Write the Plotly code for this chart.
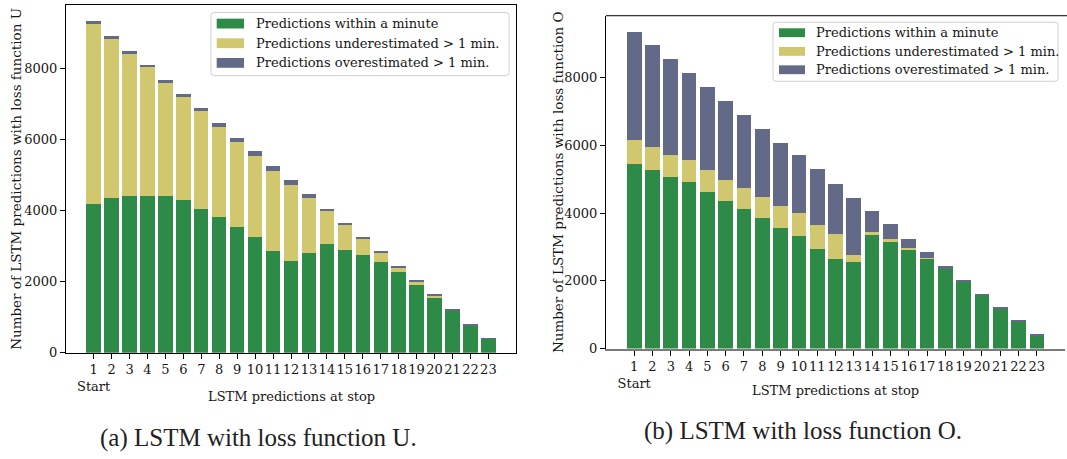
import plotly.graph_objects as go
from plotly.subplots import make_subplots

# Stops along the route (x categories)
stops = list(range(1, 24))
tick_text = ["1<br>Start"] + [str(s) for s in stops[1:]]

# LSTM with loss function U
u_within = [4180, 4345, 4425, 4425, 4425, 4290, 4040, 3815, 3540, 3265, 2875, 2575,
            2820, 3070, 2905, 2740, 2545, 2270, 1910, 1550, 1200, 780, 390]
u_under = [5060, 4510, 4010, 3625, 3180, 2905, 2765, 2545, 2405, 2270, 2240, 2155,
           1550, 940, 720, 470, 275, 140, 85, 55, 0, 0, 0]
u_over = [85, 55, 55, 55, 85, 85, 85, 110, 110, 140, 140, 140,
          85, 30, 30, 30, 30, 30, 30, 30, 25, 25, 25]

# LSTM with loss function O
o_within = [5440, 5265, 5065, 4920, 4630, 4365, 4105, 3845, 3555, 3325, 2945, 2630,
            2540, 3355, 3150, 2945, 2655, 2350, 1960, 1595, 1190, 800, 405]
o_under = [725, 695, 635, 640, 635, 610, 640, 640, 640, 665, 695, 755,
           230, 85, 85, 30, 30, 0, 0, 0, 0, 0, 0]
o_over = [3190, 2985, 2840, 2580, 2465, 2320, 2145, 2000, 1885, 1710, 1650, 1480,
          1680, 610, 435, 260, 175, 75, 60, 20, 20, 30, 20]

series_names = ["Predictions within a minute",
                "Predictions underestimated > 1 min.",
                "Predictions overestimated > 1 min."]
colors = ["#2e8a47", "#d1c76f", "#636a87"]

W, H = 1067, 459
FONT = "DejaVu Serif"
FS = 13
TEXT_COLOR = "#161616"


def px(x):
    return x / W


def py(y):
    return 1 - y / H


fig = make_subplots(rows=1, cols=2)

for col, parts in ((1, (u_within, u_under, u_over)), (2, (o_within, o_under, o_over))):
    for name, vals, color in zip(series_names, parts, colors):
        fig.add_trace(go.Bar(x=stops, y=vals, name=name, width=0.8,
                             marker=dict(color=color, line=dict(width=0)),
                             showlegend=False), row=1, col=col)

u_tot = max(a + b + c for a, b, c in zip(u_within, u_under, u_over))
o_tot = max(a + b + c for a, b, c in zip(o_within, o_under, o_over))

# panel geometry in pixels: (left, right, top, bottom)
panels = {1: (66, 516, 5, 359), 2: (606, 1065, 16, 354.7)}

axis_font = dict(family=FONT, size=FS, color=TEXT_COLOR)
common_x = dict(range=[-0.54, 24.54], tickmode="array", tickvals=stops, ticktext=tick_text,
                tickangle=0, ticks="outside", ticklen=5, tickcolor="black", tickfont=axis_font,
                showgrid=False, zeroline=False)
common_y = dict(tickmode="array", tickvals=[0, 2000, 4000, 6000, 8000],
                ticks="outside", ticklen=5, tickcolor="black", tickfont=axis_font,
                showgrid=False, zeroline=False)

l, r, t, b = panels[1]
fig.update_xaxes(domain=[px(l), px(r)], showline=True, linecolor="black", linewidth=1,
                 mirror=True, **common_x, row=1, col=1)
fig.update_yaxes(domain=[py(b), py(t)], range=[0, u_tot * 1.05], showline=True,
                 linecolor="black", linewidth=1, mirror=True, **common_y, row=1, col=1)

l, r, t, b = panels[2]
fig.update_xaxes(domain=[px(l), px(r)], showline=True, linecolor="#7a7a7a", linewidth=2,
                 **common_x, row=1, col=2)
fig.update_yaxes(domain=[py(b), py(t)], range=[0, o_tot * 1.05], showline=True,
                 linecolor="black", linewidth=1, **common_y, row=1, col=2)

shapes = []
annotations = []

# top spine of the right panel
shapes.append(dict(type="line", xref="paper", yref="paper", x0=px(606), x1=px(1067),
                   y0=py(16), y1=py(16), line=dict(color="black", width=1)))

ylabels = {1: "Number of LSTM predictions with loss function U",
           2: "Number of LSTM predictions with loss function O"}
ylabel_x = {1: 16, 2: 558}
ylabel_size = {1: 13.5, 2: 13.5}
captions = {1: ("(a) LSTM with loss function U.", 258, 446),
            2: ("(b) LSTM with loss function O.", 803, 439)}
xlabel_y = {1: 404, 2: 397}

for col in (1, 2):
    l, r, t, b = panels[col]
    annotations.append(dict(text="LSTM predictions at stop", xref="paper", yref="paper",
                            x=px((l + r) / 2), y=py(xlabel_y[col]), showarrow=False,
                            xanchor="center", yanchor="middle", font=axis_font))
    annotations.append(dict(text=ylabels[col], xref="paper", yref="paper",
                            x=px(ylabel_x[col]), y=py((t + b) / 2), textangle=-90,
                            showarrow=False, xanchor="center", yanchor="middle",
                            font=dict(family=FONT, size=ylabel_size[col], color=TEXT_COLOR)))
    text, cx, cy = captions[col]
    annotations.append(dict(text=text, xref="paper", yref="paper", x=px(cx), y=py(cy),
                            showarrow=False, xanchor="center", yanchor="middle",
                            font=dict(family="Liberation Serif", size=25, color="#222")))


def rounded_box(x0, y0, x1, y1, rad=3):
    # path in paper coordinates with small rounded corners
    def P(x, y):
        return f"{px(x):.5f},{py(y):.5f}"
    return ("M " + P(x0 + rad, y0) + " L " + P(x1 - rad, y0) + " Q " + P(x1, y0) + " " + P(x1, y0 + rad)
            + " L " + P(x1, y1 - rad) + " Q " + P(x1, y1) + " " + P(x1 - rad, y1)
            + " L " + P(x0 + rad, y1) + " Q " + P(x0, y1) + " " + P(x0, y1 - rad)
            + " L " + P(x0, y0 + rad) + " Q " + P(x0, y0) + " " + P(x0 + rad, y0) + " Z")


# legend boxes: (box l, t, r, b), swatch x0, x1, swatch height, text x, row centres
legends = {1: ((211, 12.7, 509, 77), 216.7, 244, 10, 254, [24, 44, 64]),
           2: ((773, 22.7, 1058, 82.7), 779, 805, 9, 814.3, [33.3, 52.3, 71])}
for col, (box, sx0, sx1, sh, tx, rows) in legends.items():
    bl, bt, br, bb = box
    shapes.append(dict(type="path", xref="paper", yref="paper", path=rounded_box(bl, bt, br, bb),
                       fillcolor="rgba(255,255,255,0.85)", line=dict(color="#d0d0d0", width=1)))
    for name, color, yc in zip(series_names, colors, rows):
        shapes.append(dict(type="rect", xref="paper", yref="paper", x0=px(sx0), x1=px(sx1),
                           y0=py(yc + sh / 2), y1=py(yc - sh / 2), fillcolor=color,
                           line=dict(width=0)))
        annotations.append(dict(text=name, xref="paper", yref="paper", x=px(tx), y=py(yc),
                                showarrow=False, xanchor="left", yanchor="middle",
                                font=dict(family=FONT, size=FS, color=TEXT_COLOR)))

fig.update_layout(width=W, height=H, margin=dict(l=0, r=0, t=0, b=0),
                  barmode="stack", bargap=0.2, plot_bgcolor="white", paper_bgcolor="white",
                  shapes=shapes, annotations=annotations, showlegend=False)

fig.write_html("out.html")
